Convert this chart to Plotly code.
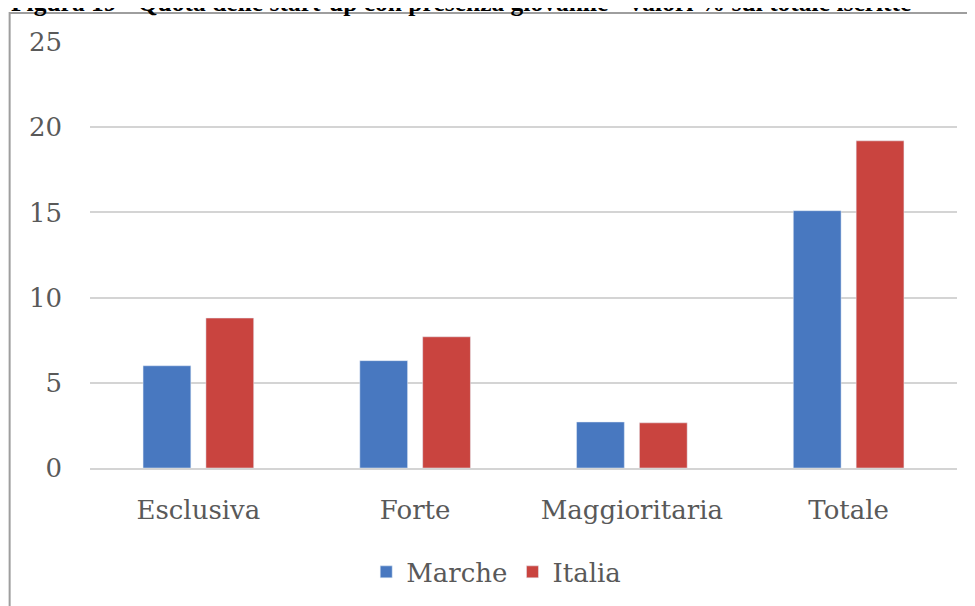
import plotly.graph_objects as go

categorie = ["Esclusiva", "Forte", "Maggioritaria", "Totale"]
marche = [6.0, 6.3, 2.7, 15.1]
italia = [8.8, 7.7, 2.65, 19.2]
y_ticks = [0, 5, 10, 15, 20, 25]
titolo = "Figura 19 - Quota delle start-up con presenza giovanile - valori % sul totale iscritte"

font_serif = "DejaVu Serif"

fig = go.Figure()
fig.add_bar(x=categorie, y=marche, name="Marche", marker_color="#4878C0")
fig.add_bar(x=categorie, y=italia, name="Italia", marker_color="#C9443F")

fig.update_layout(
    width=975, height=606,
    margin=dict(l=81.5, r=25.5, t=34, b=146),
    paper_bgcolor="white", plot_bgcolor="white",
    barmode="group", bargap=0.42, bargroupgap=0.24,
    font=dict(family=font_serif, color="#595959", size=26),
    showlegend=True,
    legend=dict(orientation="h", x=0.3186, xanchor="left", y=-0.244, yanchor="middle",
                font=dict(size=26, color="#595959"), itemwidth=30, traceorder="normal"),
)
fig.update_yaxes(range=[0, 25], tickvals=y_ticks, showgrid=True, gridcolor="#D4D4D4", gridwidth=1.5,
                 zeroline=False, showline=False, ticklabelstandoff=27, automargin=False)
fig.update_xaxes(showline=True, linecolor="#D4D4D4", linewidth=1.5, ticklabelstandoff=18,
                 automargin=False)

# cornice del grafico
fig.add_shape(type="rect", xref="paper", yref="paper", x0=-0.0927, x1=1.2, y0=-0.5, y1=1.068,
              line=dict(color="#9E9E9E", width=2), fillcolor="rgba(0,0,0,0)", layer="below")

fig.add_annotation(text="<b>" + titolo + "</b>", xref="paper", yref="paper", x=0, xshift=-81.5,
                   xanchor="left", y=1, yanchor="bottom", yshift=23, showarrow=False,
                   font=dict(family="Liberation Serif", size=25.5, color="black"))

fig.write_html("out.html")
